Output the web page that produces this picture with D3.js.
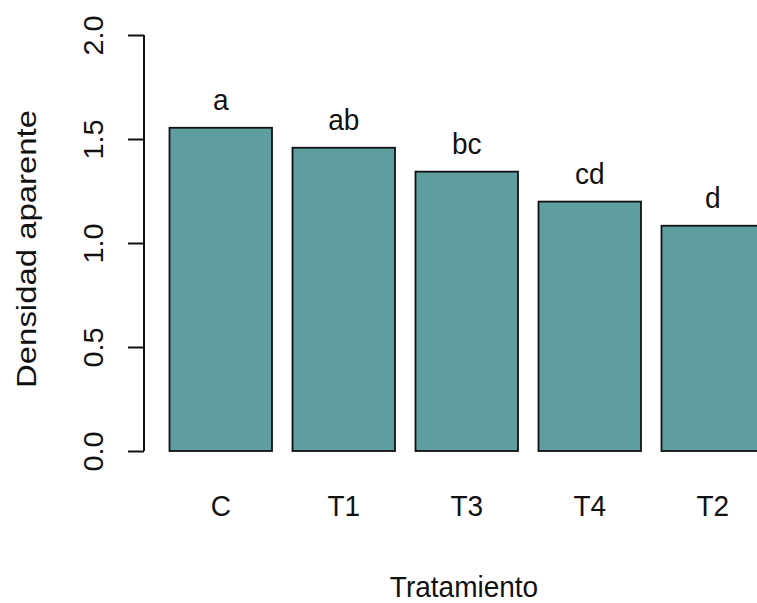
<!DOCTYPE html>
<html><head><meta charset="utf-8">
<script src="https://cdn.jsdelivr.net/npm/d3@7"></script>
<style>
html,body{margin:0;padding:0;background:#fff;overflow:hidden;}
text{font-family:"Liberation Sans",Arial,sans-serif;fill:#111;}
</style></head>
<body>
<svg id="chart" width="757" height="603"></svg>
<script>
const categories = ["C", "T1", "T3", "T4", "T2"];
const values = [1.554, 1.458, 1.343, 1.199, 1.083];
const groupLetters = ["a", "ab", "bc", "cd", "d"];
const yTicks = [0, 0.5, 1.0, 1.5, 2.0];
const yLabel = "Densidad aparente";
const xLabel = "Tratamiento";

const svg = d3.select("#chart");
const step = 123;
const x = d3.scaleBand().domain(categories)
  .range([159.25, 159.25 + 5 * step])
  .paddingInner(20.5 / step).paddingOuter(10.25 / step);
const y = d3.scaleLinear().domain([0, 2]).range([451, 35]);

// bars
svg.append("g").selectAll("rect").data(categories).join("rect")
  .attr("x", d => x(d))
  .attr("y", (d, i) => y(values[i]))
  .attr("width", x.bandwidth())
  .attr("height", (d, i) => y(0) - y(values[i]))
  .attr("fill", "#5F9EA0")
  .attr("stroke", "#111")
  .attr("stroke-width", 1.8);

// group letters
svg.append("g").selectAll("text").data(categories).join("text")
  .attr("text-anchor", "middle")
  .attr("font-size", 28)
  .attr("transform", (d, i) => `translate(${x(d) + x.bandwidth() / 2},${y(values[i]) - 18}) scale(1,1.06)`)
  .text((d, i) => groupLetters[i]);

// y axis
const yAxis = d3.axisLeft(y).tickValues(yTicks).tickSize(16).tickFormat(d3.format(".1f"));
const ga = svg.append("g").attr("transform", "translate(144,0)").call(yAxis);
ga.select(".domain").attr("stroke", "#111").attr("stroke-width", 2)
  .attr("d", `M0,${y(2)}V${y(0)}`);
ga.selectAll(".tick line").attr("stroke", "#111").attr("stroke-width", 2);
ga.selectAll(".tick text")
  .attr("x", null).attr("dy", null)
  .attr("font-size", 28)
  .attr("text-anchor", "middle")
  .attr("fill", "#111")
  .attr("transform", "translate(-41,0) rotate(-90) scale(1.03,1)");

// category labels
svg.append("g").selectAll("text").data(categories).join("text")
  .attr("text-anchor", "middle")
  .attr("font-size", 28)
  .attr("transform", d => `translate(${x(d) + x.bandwidth() / 2},516) scale(1,1.06)`)
  .text(d => d);

// axis titles
svg.append("text")
  .attr("text-anchor", "middle")
  .attr("font-size", 28)
  .attr("transform", "translate(464,597) scale(1,1.06)")
  .text(xLabel);

svg.append("text")
  .attr("text-anchor", "middle")
  .attr("font-size", 28)
  .attr("transform", "translate(36,249) rotate(-90) scale(1.175,1)")
  .text(yLabel);
</script>
</body></html>
